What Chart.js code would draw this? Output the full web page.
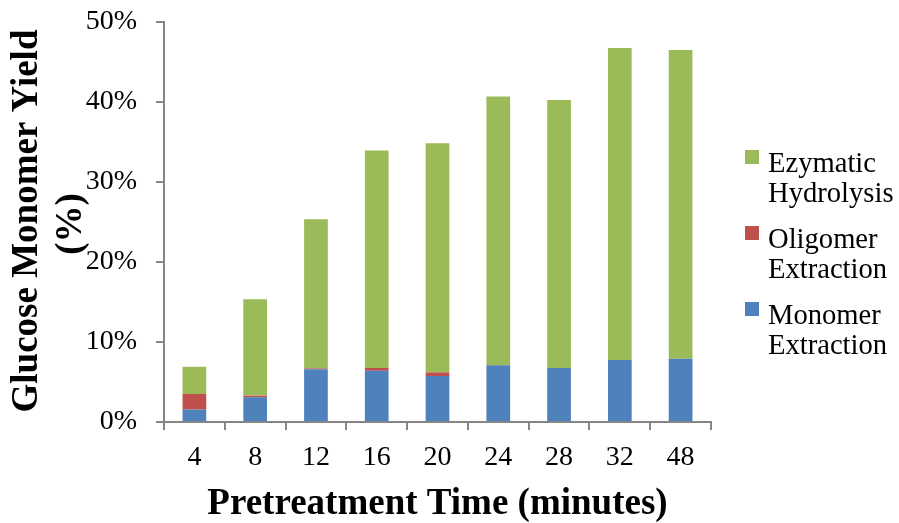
<!DOCTYPE html>
<html>
<head>
<meta charset="utf-8">
<script src="https://cdn.jsdelivr.net/npm/chart.js@4"></script>
<style>
  html, body { margin: 0; padding: 0; background: #fff; }
  #wrap { position: relative; width: 899px; height: 523px; }
</style>
</head>
<body>
<div id="wrap"><canvas id="c" width="899" height="523"></canvas></div>
<script>
const categories = ['4', '8', '12', '16', '20', '24', '28', '32', '48'];
const monomerExtraction = [1.55, 3.1, 6.6, 6.4, 5.75, 7.1, 6.75, 7.75, 7.9];
const oligomerExtraction = [1.95, 0.2, 0.1, 0.35, 0.45, 0, 0, 0, 0];
const enzymaticHydrolysis = [3.4, 12.05, 18.64, 27.2, 28.64, 33.6, 33.5, 39.0, 38.6];
const yTicks = [0, 10, 20, 30, 40, 50];
const seriesNames = ['Monomer Extraction', 'Oligomer Extraction', 'Ezymatic Hydrolysis'];
const seriesColors = ['#4F81BD', '#C0504D', '#9BBB59'];

const AXIS = '#868686';
const SERIF = '"Liberation Serif", "Times New Roman", serif';

const titlesAndLegend = {
  id: 'titlesAndLegend',
  afterDraw(chart) {
    const ctx = chart.ctx;
    const area = chart.chartArea;
    ctx.save();
    ctx.fillStyle = '#000';
    // Y title
    ctx.font = 'bold 37px ' + SERIF;
    ctx.textAlign = 'center';
    ctx.textBaseline = 'alphabetic';
    const cy = (area.top + area.bottom) / 2;
    ctx.save();
    ctx.translate(37, cy - 1);
    ctx.rotate(-Math.PI / 2);
    ctx.fillText('Glucose Monomer Yield', 0, 0);
    ctx.restore();
    ctx.save();
    ctx.translate(81, cy + 2);
    ctx.rotate(-Math.PI / 2);
    ctx.fillText('(%)', 0, 0);
    ctx.restore();
    // X title
    ctx.fillText('Pretreatment Time (minutes)', (area.left + area.right) / 2, 514);
    // Legend (reverse order, two lines each)
    ctx.font = '28.6px ' + SERIF;
    ctx.textAlign = 'left';
    const order = [2, 1, 0];
    const lines = [['Ezymatic', 'Hydrolysis'], ['Oligomer', 'Extraction'], ['Monomer', 'Extraction']];
    order.forEach((di, i) => {
      const base = 171.7 + i * 76;
      ctx.fillStyle = seriesColors[di];
      ctx.fillRect(745, base - 21.7, 14, 14);
      ctx.fillStyle = '#000';
      ctx.fillText(lines[i][0], 768, base);
      ctx.fillText(lines[i][1], 768, base + 30);
    });
    ctx.restore();
  }
};

new Chart(document.getElementById('c'), {
  type: 'bar',
  data: {
    labels: categories,
    datasets: [
      { label: seriesNames[0], data: monomerExtraction, backgroundColor: seriesColors[0] },
      { label: seriesNames[1], data: oligomerExtraction, backgroundColor: seriesColors[1] },
      { label: seriesNames[2], data: enzymaticHydrolysis, backgroundColor: seriesColors[2] }
    ]
  },
  options: {
    responsive: false,
    animation: false,
    devicePixelRatio: 1,
    layout: { padding: { top: 22, right: 188, left: 0, bottom: 0 } },
    plugins: { legend: { display: false }, tooltip: { enabled: false } },
    datasets: { bar: { categoryPercentage: 1, barPercentage: 0.39 } },
    scales: {
      x: {
        stacked: true,
        grid: { display: true, drawOnChartArea: false, color: AXIS, lineWidth: 2, tickLength: 8, offset: true },
        border: { color: AXIS, width: 2 },
        ticks: { color: '#000', font: { family: SERIF, size: 28 }, padding: 11, maxRotation: 0 },
        afterFit(scale) { scale.height = 101; scale.paddingLeft = 0; scale.paddingRight = 0; }
      },
      y: {
        stacked: true,
        min: 0, max: 50,
        afterBuildTicks(scale) { scale.ticks = yTicks.map(v => ({ value: v })); },
        grid: { display: true, drawOnChartArea: false, color: AXIS, lineWidth: 2, tickLength: 8 },
        border: { color: AXIS, width: 2 },
        ticks: { color: '#000', font: { family: SERIF, size: 28 }, padding: 19, callback: v => v + '%' },
        afterFit(scale) { scale.width = 164; scale.paddingTop = 0; scale.paddingBottom = 0; }
      }
    }
  },
  plugins: [titlesAndLegend]
});
</script>
</body>
</html>
